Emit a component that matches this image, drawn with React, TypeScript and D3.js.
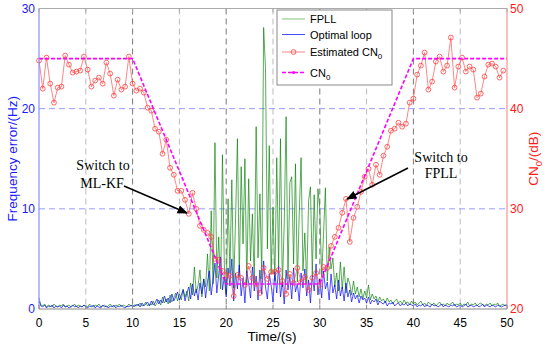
import * as d3 from 'd3';

// frequency error of the FPLL, one value every 0.2 s (Hz)
const fpllError = [
  1.1, 0.4, 0.3, 0.5, 0.2, 0.4, 0.3, 0.2, 0.5, 0.3, 0.2, 0.4, 0.3, 0.5, 0.2, 0.3, 0.4, 0.2, 0.3, 0.5, 0.2, 0.4, 0.3, 0.2, 0.4,
  0.3, 0.2, 0.5, 0.3, 0.2, 0.4, 0.3, 0.5, 0.2, 0.3, 0.4, 0.2, 0.3, 0.5, 0.3, 0.2, 0.4, 0.3, 0.5, 0.2, 0.4, 0.3, 0.2, 0.5, 0.3,
  0.4, 0.2, 0.5, 0.3, 0.6, 0.3, 0.4, 0.7, 0.3, 0.5, 0.4, 0.8, 0.3, 0.6, 0.9, 0.4, 1.2, 0.6, 1.0, 0.5, 1.4, 0.7, 1.1, 1.6, 0.8,
  1.5, 0.9, 2.0, 1.2, 1.8, 0.8, 2.6, 1.4, 4.2, 1.6, 2.4, 3.9, 1.2, 3.0, 2.2, 5.5, 1.8, 9.8, 2.5, 16.6, 3.1, 7.2, 2.0, 15.4, 4.4,
  1.5, 11.0, 3.6, 12.9, 2.1, 9.0, 17.0, 3.2, 14.2, 6.5, 15.0, 2.4, 13.0, 4.8, 9.5, 2.6, 18.2, 5.1, 11.5, 3.0, 28.1, 24.0, 6.0, 16.3, 3.5,
  10.2, 2.8, 15.1, 4.3, 17.0, 2.2, 8.5, 19.2, 3.0, 12.6, 13.2, 4.5, 14.5, 2.7, 9.4, 15.1, 3.8, 7.6, 2.5, 10.8, 12.2, 3.4, 11.4, 5.0, 12.0,
  10.0, 3.2, 7.5, 12.1, 2.8, 6.2, 4.0, 5.1, 2.2, 3.6, 1.8, 4.7, 2.0, 4.2, 1.6, 3.1, 2.5, 1.4, 2.8, 1.5, 2.2, 1.2, 2.0, 1.0, 1.8,
  1.1, 2.4, 0.9, 1.5, 1.0, 1.3, 0.7, 1.2, 0.8, 1.0, 0.6, 1.1, 0.7, 0.9, 0.5, 0.8, 1.0, 0.6, 0.8, 0.5, 0.9, 0.6, 0.7, 0.4, 0.8,
  0.5, 0.7, 0.4, 0.6, 0.8, 0.4, 0.6, 0.3, 0.7, 0.5, 0.4, 0.6, 0.3, 0.5, 0.7, 0.4, 0.5, 0.3, 0.6, 0.4, 0.5, 0.7, 0.3, 0.5, 0.4,
  0.6, 0.3, 0.5, 0.4, 0.7, 0.3, 0.5, 0.4, 0.6, 0.3, 0.5, 0.6, 0.4, 0.3, 0.5, 0.4, 0.6, 0.3, 0.5, 0.4, 0.6, 0.3, 0.4, 0.5, 0.3,
  0.5,
];

// frequency error of the optimal loop, one value every 0.2 s (Hz)
const optimalError = [
  0.8, 0.3, 0.2, 0.4, 0.1, 0.3, 0.2, 0.4, 0.1, 0.3, 0.2, 0.3, 0.1, 0.4, 0.2, 0.3, 0.1, 0.2, 0.4, 0.2, 0.3, 0.1, 0.3, 0.2, 0.4,
  0.2, 0.1, 0.3, 0.2, 0.4, 0.1, 0.3, 0.2, 0.1, 0.4, 0.2, 0.3, 0.1, 0.3, 0.2, 0.4, 0.1, 0.3, 0.2, 0.4, 0.2, 0.1, 0.3, 0.2, 0.4,
  0.2, 0.4, 0.3, 0.5, 0.2, 0.6, 0.3, 0.5, 0.7, 0.3, 0.8, 0.4, 0.6, 1.0, 0.5, 0.9, 0.6, 1.3, 0.7, 1.1, 0.6, 1.5, 0.8, 1.2, 1.7,
  0.9, 1.4, 1.9, 0.8, 1.6, 2.2, 1.0, 2.5, 1.3, 2.0, 0.9, 2.6, 1.5, 3.0, 1.1, 2.7, 3.8, 1.4, 2.9, 4.6, 1.6, 3.4, 5.2, 1.9, 3.2,
  1.2, 4.1, 2.3, 5.0, 0.8, 3.6, 2.0, 4.4, 1.3, 3.1, 0.6, 3.8, 2.6, 1.1, 4.2, 1.8, 3.3, 0.9, 3.9, 1.5, 4.8, 2.2, 1.0, 3.5, 2.4,
  0.7, 3.7, 1.6, 4.3, 1.2, 2.8, 0.5, 3.9, 1.9, 3.2, 1.0, 4.1, 1.7, 2.5, 0.8, 3.6, 2.1, 4.0, 1.3, 2.9, 0.6, 3.4, 1.8, 4.5, 1.4,
  3.0, 1.1, 3.8, 2.0, 2.7, 0.9, 3.5, 1.6, 2.4, 1.0, 2.9, 1.3, 2.2, 0.8, 2.6, 1.2, 1.9, 0.7, 1.6, 1.0, 1.4, 0.6, 1.3, 0.9, 1.1,
  0.6, 1.2, 0.5, 0.9, 0.7, 1.0, 0.4, 0.8, 0.6, 0.5, 0.8, 0.3, 0.6, 0.5, 0.7, 0.3, 0.5, 0.6, 0.3, 0.5, 0.4, 0.6, 0.3, 0.5, 0.4,
  0.3, 0.5, 0.2, 0.4, 0.3, 0.5, 0.2, 0.4, 0.3, 0.2, 0.5, 0.3, 0.4, 0.2, 0.3, 0.5, 0.2, 0.4, 0.3, 0.2, 0.4, 0.3, 0.5, 0.2, 0.3,
  0.4, 0.2, 0.3, 0.5, 0.2, 0.3, 0.4, 0.2, 0.3, 0.4, 0.2, 0.3, 0.5, 0.2, 0.4, 0.3, 0.2, 0.4, 0.3, 0.2, 0.4, 0.3, 0.2, 0.3, 0.4,
  0.3,
];

// estimated CN0, one value every 0.4 s (dB)
const estimatedCN0 = [
  44.8, 42.0, 45.1, 42.5, 40.6, 42.1, 42.2, 45.3, 44.4, 43.6, 43.7, 43.8, 45.2, 43.9, 42.2, 42.8, 43.1, 42.5, 44.6, 43.5, 41.3, 42.9, 41.9, 42.2, 45.2,
  42.5, 41.8, 42.0, 41.6, 40.1, 39.8, 38.0, 37.7, 35.5, 36.9, 34.1, 33.4, 31.8, 31.8, 30.9, 29.5, 31.6, 30.0, 28.3, 27.9, 27.6, 27.2, 25.0, 24.9, 23.8,
  23.4, 23.3, 21.3, 23.4, 23.1, 22.4, 24.3, 23.1, 22.5, 21.6, 24.1, 23.0, 23.7, 23.7, 23.9, 22.8, 21.5, 23.5, 22.6, 24.1, 22.7, 23.2, 21.9, 23.1, 23.6,
  22.4, 24.2, 24.1, 26.3, 27.2, 28.1, 29.6, 31.0, 26.7, 29.1, 30.2, 31.7, 33.2, 34.0, 32.4, 34.4, 33.4, 35.3, 36.2, 37.8, 38.0, 38.6, 38.2, 38.5, 40.6,
  41.0, 43.4, 44.3, 45.6, 41.9, 42.7, 44.7, 45.2, 43.7, 44.3, 47.1, 42.1, 44.2, 45.1, 43.7, 44.2, 43.9, 41.1, 41.5, 43.2, 44.4, 44.5, 44.2, 43.1, 43.8,
];

// true CN0 profile
const cn0Times = [0, 10, 20, 30, 40, 50];
const cn0Values = [45, 45, 22.5, 22.5, 45, 45];

const timeTicks = [0, 5, 10, 15, 20, 25, 30, 35, 40, 45, 50];
const freqTicks = [0, 10, 20, 30];
const cn0Ticks = [20, 30, 40, 50];

const errStep = 0.2;
const cnStep = 0.4;

const W = 550;
const H = 345;
const left = 39;
const right = 507;
const top = 8.5;
const bottom = 309;

const sans = '"Liberation Sans", Arial, sans-serif';
const serif = '"Liberation Serif", "Times New Roman", serif';

export default function App() {
  const x = d3.scaleLinear().domain([0, 50]).range([left, right]);
  const yF = d3.scaleLinear().domain([0, 30]).range([bottom, top]);
  const yC = d3.scaleLinear().domain([20, 50]).range([bottom, top]);

  const errLine = d3.line<number>().x((_, i) => x(i * errStep)).y(d => yF(d));
  const estLine = d3.line<number>().x((_, i) => x(i * cnStep)).y(d => yC(d));
  const cnLine = d3.line<number>().x((_, i) => x(cn0Times[i])).y(d => yC(d));

  return (
    <svg width={W} height={H} style={{ position: 'absolute', left: 0, top: 0, background: '#fff' }}>
      <defs>
        <marker id="arr" viewBox="0 0 10 10" refX="9" refY="5" markerWidth="7" markerHeight="7" orient="auto">
          <path d="M0,1 L10,5 L0,9 z" fill="#000" />
        </marker>
      </defs>

      {/* grid */}
      {timeTicks.filter(t => t > 0 && t < 50).map(t => (
        <line key={'gx' + t} x1={x(t)} x2={x(t)} y1={top} y2={bottom}
          stroke={t % 10 === 0 ? '#555' : '#aaa'} strokeWidth={0.8} strokeDasharray="6,4" />
      ))}
      {freqTicks.filter(v => v > 0 && v < 30).map(v => (
        <line key={'gy' + v} x1={left} x2={right} y1={yF(v)} y2={yF(v)}
          stroke="#9a9aff" strokeWidth={1} strokeDasharray="6,4" />
      ))}

      {/* frequency error */}
      <path d={errLine(fpllError) ?? ''} fill="none" stroke="#008000" strokeWidth={1} strokeOpacity={0.65} />
      <path d={errLine(optimalError) ?? ''} fill="none" stroke="#0000ff" strokeWidth={0.8} strokeOpacity={0.85} />

      {/* CN0 */}
      <path d={estLine(estimatedCN0) ?? ''} fill="none" stroke="#ff5050" strokeWidth={0.7} />
      {estimatedCN0.map((v, i) => (
        <circle key={'c' + i} cx={x(i * cnStep)} cy={yC(v)} r={2.4} fill="none" stroke="#ff4040" strokeWidth={0.8} />
      ))}
      <path d={cnLine(cn0Values) ?? ''} fill="none" stroke="#ff00ff" strokeWidth={1.6} strokeDasharray="4,2" />

      {/* frame */}
      <line x1={left} x2={right} y1={top} y2={top} stroke="#aaa" strokeWidth={1} />
      <line x1={left} x2={right} y1={bottom} y2={bottom} stroke="#888" strokeWidth={1} />
      <line x1={left} x2={left} y1={top} y2={bottom} stroke="#8c8cff" strokeWidth={1.2} />
      <line x1={right} x2={right} y1={top} y2={bottom} stroke="#ff9090" strokeWidth={1.2} />
      {timeTicks.map(t => (
        <g key={'tk' + t}>
          <line x1={x(t)} x2={x(t)} y1={bottom} y2={bottom - 4} stroke="#888" />
          <line x1={x(t)} x2={x(t)} y1={top} y2={top + 4} stroke="#aaa" />
          <text x={x(t)} y={327} textAnchor="middle" fontFamily={sans} fontSize={12} fill="#000">{t}</text>
        </g>
      ))}
      {freqTicks.map(v => (
        <text key={'fl' + v} x={35} y={yF(v) + 4.3} textAnchor="end" fontFamily={sans} fontSize={12} fill="#1a1aff">{v}</text>
      ))}
      {cn0Ticks.map(v => (
        <text key={'cl' + v} x={510} y={yC(v) + 4.3} textAnchor="start" fontFamily={sans} fontSize={12} fill="#ff1a1a">{v}</text>
      ))}

      {/* axis titles */}
      <text x={272} y={341} textAnchor="middle" fontFamily={sans} fontSize={13.5} fill="#000">Time/(s)</text>
      <text transform={`translate(17,${(top + bottom) / 2}) rotate(-90)`} textAnchor="middle" fontFamily={sans} fontSize={13.5} fill="#1a1aff">Frequency error/(Hz)</text>
      <text transform={`translate(538,${(top + bottom) / 2}) rotate(-90)`} textAnchor="middle" fontFamily={sans} fontSize={13.5} fill="#ff1a1a">
        CN<tspan fontSize={9.5} dy={4}>0</tspan><tspan dy={-4}>/(dB)</tspan>
      </text>

      {/* annotations */}
      <text x={103} y={170} textAnchor="middle" fontFamily={serif} fontSize={14} fill="#000">Switch to</text>
      <text x={102} y={188} textAnchor="middle" fontFamily={serif} fontSize={14} fill="#000">ML-KF</text>
      <line x1={124} y1={186} x2={187} y2={213} stroke="#000" strokeWidth={1.5} markerEnd="url(#arr)" />
      <text x={441} y={162} textAnchor="middle" fontFamily={serif} fontSize={14} fill="#000">Switch to</text>
      <text x={441} y={178} textAnchor="middle" fontFamily={serif} fontSize={14} fill="#000">FPLL</text>
      <line x1={408} y1={168} x2={347} y2={199} stroke="#000" strokeWidth={1.5} markerEnd="url(#arr)" />

      {/* legend */}
      <rect x={277} y={10} width={115} height={75} fill="#fff" stroke="#888" strokeWidth={1} />
      <line x1={282} x2={305} y1={19} y2={19} stroke="#008000" strokeOpacity={0.5} strokeWidth={1} />
      <text x={310} y={23} fontFamily={sans} fontSize={11} fill="#000">FPLL</text>
      <line x1={282} x2={305} y1={34.5} y2={34.5} stroke="#0000ff" strokeOpacity={0.7} strokeWidth={1} />
      <text x={310} y={38.5} fontFamily={sans} fontSize={11} fill="#000">Optimal loop</text>
      <line x1={282} x2={305} y1={52} y2={52} stroke="#ff5050" strokeWidth={0.7} />
      <circle cx={293.5} cy={52} r={2.4} fill="none" stroke="#ff4040" strokeWidth={0.8} />
      <text x={310} y={56} fontFamily={sans} fontSize={11} fill="#000">Estimated CN<tspan fontSize={8} dy={3}>0</tspan></text>
      <line x1={282} x2={305} y1={72.5} y2={72.5} stroke="#ff00ff" strokeWidth={1.6} strokeDasharray="4,2" />
      <circle cx={293.5} cy={72.5} r={1.5} fill="#ff00ff" />
      <text x={310} y={76.5} fontFamily={sans} fontSize={11} fill="#000">CN<tspan fontSize={8} dy={3}>0</tspan></text>
    </svg>
  );
}
